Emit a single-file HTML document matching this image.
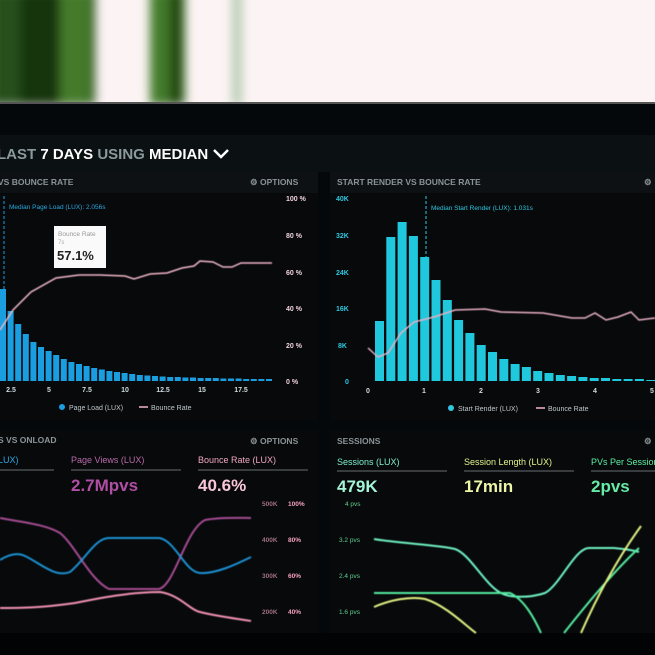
<!DOCTYPE html>
<html><head><meta charset="utf-8"><style>
html,body{margin:0;padding:0;background:#000;}
svg{display:block}
text{font-family:"Liberation Sans",sans-serif;}
</style></head><body>
<svg width="655" height="655" viewBox="0 0 655 655" xmlns="http://www.w3.org/2000/svg">
<defs>
<filter id="b" x="-20%" y="-20%" width="140%" height="140%"><feGaussianBlur stdDeviation="5"/></filter>
<filter id="s"><feGaussianBlur stdDeviation="0.4"/></filter>
</defs>
<rect x="0" y="0" width="655" height="103" fill="#fcf4f4"/>
<g filter="url(#b)">
<rect x="-10" y="-10" width="105" height="115" fill="#28501a"/>
<rect x="20" y="-10" width="40" height="115" fill="#183410"/>
<rect x="60" y="-10" width="30" height="115" fill="#447a2c"/>
<rect x="150" y="-10" width="35" height="115" fill="#427a2c"/>
<rect x="170" y="-10" width="12" height="115" fill="#1a4010"/>
<rect x="232" y="-10" width="10" height="115" fill="#b6ccb2"/>
</g>
<rect x="0" y="102" width="655" height="553" fill="#05080a"/>
<rect x="0" y="102" width="655" height="2" fill="#555"/>
<rect x="0" y="135" width="655" height="37" fill="#0b1013"/>
<rect x="0" y="172" width="318" height="248" fill="#07090b"/>
<rect x="330" y="172" width="325" height="248" fill="#07090b"/>
<rect x="0" y="172" width="318" height="21" fill="#0d1113"/>
<rect x="330" y="172" width="325" height="21" fill="#0d1113"/>
<rect x="0" y="430" width="318" height="203" fill="#07090b"/>
<rect x="330" y="430" width="325" height="203" fill="#07090b"/>
<rect x="0" y="633" width="655" height="22" fill="#020304"/>

<text x="-3" y="159" font-size="15" font-weight="bold" fill="#8a9a9c">LAST <tspan fill="#fff">7 DAYS</tspan> USING <tspan fill="#fff">MEDIAN</tspan></text>
<polyline points="214,150 221,157 228,150" fill="none" stroke="#fff" stroke-width="2.5"/>

<g font-size="8.5" font-weight="bold" fill="#8a9396">
<text x="-2" y="185">VS BOUNCE RATE</text>
<text x="250" y="185">⚙ OPTIONS</text>
<text x="337" y="185">START RENDER VS BOUNCE RATE</text>
<text x="644" y="185">⚙</text>
<text x="-2" y="443">S VS ONLOAD</text>
<text x="250" y="444">⚙ OPTIONS</text>
<text x="337" y="444">SESSIONS</text>
<text x="644" y="444">⚙</text>
</g>

<g fill="#1a9ee0">
<rect x="0" y="289" width="6" height="92"/><rect x="7.6" y="311" width="6" height="70"/><rect x="15.2" y="324" width="6" height="57"/><rect x="22.8" y="334" width="6" height="47"/><rect x="30.4" y="342" width="6" height="39"/><rect x="38" y="347" width="6" height="34"/><rect x="45.6" y="351" width="6" height="30"/><rect x="53.2" y="355" width="6" height="26"/><rect x="60.8" y="359" width="6" height="22"/><rect x="68.4" y="362" width="6" height="19"/><rect x="76" y="364" width="6" height="17"/><rect x="83.6" y="366" width="6" height="15"/><rect x="91.2" y="368" width="6" height="13"/><rect x="98.8" y="369.5" width="6" height="11.5"/><rect x="106.4" y="371" width="6" height="10"/><rect x="114" y="372" width="6" height="9"/><rect x="121.6" y="373" width="6" height="8"/><rect x="129.2" y="374" width="6" height="7"/><rect x="136.8" y="375" width="6" height="6"/><rect x="144.4" y="375.5" width="6" height="5.5"/><rect x="152" y="376" width="6" height="5"/><rect x="159.6" y="376.5" width="6" height="4.5"/><rect x="167.2" y="377" width="6" height="4"/><rect x="174.8" y="377" width="6" height="4"/><rect x="182.4" y="377.5" width="6" height="3.5"/><rect x="190" y="377.5" width="6" height="3.5"/><rect x="197.6" y="378" width="6" height="3"/><rect x="205.2" y="378" width="6" height="3"/><rect x="212.8" y="378" width="6" height="3"/><rect x="220.4" y="378.5" width="6" height="2.5"/><rect x="228" y="378.5" width="6" height="2.5"/><rect x="235.6" y="378.5" width="6" height="2.5"/><rect x="243.2" y="379" width="6" height="2"/><rect x="250.8" y="379" width="6" height="2"/><rect x="258.4" y="379" width="6" height="2"/><rect x="266" y="379" width="6" height="2"/>
</g>
<line x1="4" y1="196" x2="4" y2="289" stroke="#1a9ee0" stroke-width="1" stroke-dasharray="3,2"/>
<text x="9" y="209" font-size="6.5" fill="#2aa8e0">Median Page Load (LUX): 2.056s</text>
<polyline filter="url(#s)" points="0,330 13,310 31,292 56,278 79,275 100,275 125,276 134,279 150,274 167,273 182,268 194,266 200,261 213,262 223,267 232,267 241,263 257,263 272,263" fill="none" stroke="#f0b6c6" stroke-width="1.5"/>
<rect x="54" y="226" width="52" height="42" fill="#fafafa"/>
<text x="58" y="236" font-size="6.5" fill="#999">Bounce Rate</text>
<text x="58" y="244" font-size="6" fill="#aaa">7s</text>
<text x="57" y="260" font-size="13" fill="#222" font-weight="bold">57.1%</text>
<g font-size="7" font-weight="bold" fill="#f0d0dc">
<text x="286" y="201">100 %</text><text x="286" y="238">80 %</text><text x="286" y="275">60 %</text><text x="286" y="311">40 %</text><text x="286" y="348">20 %</text><text x="286" y="384">0 %</text>
</g>
<g font-size="7" font-weight="bold" fill="#d0dce0" text-anchor="middle">
<text x="11" y="392">2.5</text><text x="49" y="392">5</text><text x="87" y="392">7.5</text><text x="125" y="392">10</text><text x="163" y="392">12.5</text><text x="202" y="392">15</text><text x="241" y="392">17.5</text>
</g>
<circle cx="62" cy="407" r="3" fill="#1a9ee0"/>
<text x="69" y="410" font-size="7" fill="#c0c8cc">Page Load (LUX)</text>
<line x1="139" y1="407" x2="148" y2="407" stroke="#f0b6c6" stroke-width="1.5"/>
<text x="151" y="410" font-size="7" fill="#c0c8cc">Bounce Rate</text>

<g font-size="7" font-weight="bold" fill="#2fc8e0">
<text x="336" y="201">40K</text><text x="336" y="238">32K</text><text x="336" y="275">24K</text><text x="336" y="311">16K</text><text x="338" y="348">8K</text><text x="345" y="384">0</text>
</g>
<g fill="#1fc8dc">
<rect x="375" y="321" width="9" height="60"/><rect x="386.3" y="237" width="9" height="144"/><rect x="397.6" y="222" width="9" height="159"/><rect x="408.9" y="236" width="9" height="145"/><rect x="420.2" y="257" width="9" height="124"/><rect x="431.5" y="280" width="9" height="101"/><rect x="442.8" y="300" width="9" height="81"/><rect x="454.1" y="320" width="9" height="61"/><rect x="465.4" y="333" width="9" height="48"/><rect x="476.7" y="345" width="9" height="36"/><rect x="488" y="352" width="9" height="29"/><rect x="499.3" y="359" width="9" height="22"/><rect x="510.6" y="364" width="9" height="17"/><rect x="521.9" y="367" width="9" height="14"/><rect x="533.2" y="371" width="9" height="10"/><rect x="544.5" y="373" width="9" height="8"/><rect x="555.8" y="375" width="9" height="6"/><rect x="567.1" y="376" width="9" height="5"/><rect x="578.4" y="377" width="9" height="4"/><rect x="589.7" y="378" width="9" height="3"/><rect x="601" y="378" width="9" height="3"/><rect x="612.3" y="379" width="9" height="2"/><rect x="623.6" y="379" width="9" height="2"/><rect x="634.9" y="379" width="9" height="2"/><rect x="646.2" y="380" width="9" height="1"/>
</g>
<line x1="426" y1="196" x2="426" y2="257" stroke="#2fc8e0" stroke-width="1" stroke-dasharray="3,2"/>
<text x="431" y="210" font-size="6.5" fill="#2fc8e0">Median Start Render (LUX): 1.031s</text>
<polyline filter="url(#s)" points="368,348 378,357 388,353 401,333 414,322 434,317 455,310 485,309 501,312 543,313 572,318 585,318 595,313 606,320 618,317 631,312 639,320 655,318" fill="none" stroke="#e8b0c4" stroke-width="1.5"/>
<g font-size="7" font-weight="bold" fill="#d0dce0" text-anchor="middle">
<text x="368" y="393">0</text><text x="424" y="393">1</text><text x="481" y="393">2</text><text x="538" y="393">3</text><text x="595" y="393">4</text><text x="652" y="393">5</text>
</g>
<circle cx="451" cy="408" r="3" fill="#2fc8e0"/>
<text x="458" y="411" font-size="7" fill="#c0c8cc">Start Render (LUX)</text>
<line x1="536" y1="408" x2="545" y2="408" stroke="#f0b6c6" stroke-width="1.5"/>
<text x="548" y="411" font-size="7" fill="#c0c8cc">Bounce Rate</text>

<text x="-2" y="463" font-size="9" fill="#2aa8e0">LUX)</text>
<text x="71" y="463" font-size="9" fill="#b86aa8">Page Views (LUX)</text>
<text x="198" y="463" font-size="9" fill="#f2a6c4">Bounce Rate (LUX)</text>
<g stroke="#4a4e50" stroke-width="1.5">
<line x1="0" y1="470" x2="54" y2="470"/><line x1="71" y1="470" x2="181" y2="470"/><line x1="198" y1="470" x2="308" y2="470"/>
<line x1="337" y1="471" x2="447" y2="471"/><line x1="464" y1="471" x2="574" y2="471"/><line x1="591" y1="471" x2="655" y2="471"/>
</g>
<text x="71" y="491" font-size="17" font-weight="bold" fill="#b04ea4">2.7Mpvs</text>
<text x="198" y="491" font-size="17" font-weight="bold" fill="#f8c6d6">40.6%</text>
<g font-size="6.5" font-weight="bold">
<text x="262" y="506" fill="#a0707e">500K</text><text x="288" y="506" fill="#f4a0bc">100%</text>
<text x="262" y="542" fill="#a0707e">400K</text><text x="288" y="542" fill="#f4a0bc">80%</text>
<text x="262" y="578" fill="#a0707e">300K</text><text x="288" y="578" fill="#f4a0bc">60%</text>
<text x="262" y="614" fill="#a0707e">200K</text><text x="288" y="614" fill="#f4a0bc">40%</text>
</g>
<g fill="none" stroke-width="2" filter="url(#s)">
<path d="M0,518 C20,522 45,524 60,533 C75,545 90,580 109,589 L159,589 C175,585 185,530 205,520 C220,517 240,518 251,518" stroke="#a24c90"/>
<path d="M0,560 C8,555 17,552 25,556 C40,563 55,578 70,572 C85,560 95,538 109,538 L159,538 C175,540 185,572 200,573 C215,574 235,565 251,557" stroke="#1b8fd0"/>
<path d="M0,608 C20,608 40,608 75,603 C100,598 130,592 160,592 C180,595 190,610 200,612 C220,617 240,619 251,621" stroke="#f090b0"/>
</g>

<text x="337" y="465" font-size="9" fill="#7ef0d0">Sessions (LUX)</text>
<text x="464" y="465" font-size="9" fill="#e4f48a">Session Length (LUX)</text>
<text x="591" y="465" font-size="9" fill="#5cf0a4">PVs Per Session</text>
<text x="337" y="492" font-size="17" font-weight="bold" fill="#a4f4d8">479K</text>
<text x="464" y="492" font-size="17" font-weight="bold" fill="#eef6a8">17min</text>
<text x="591" y="492" font-size="17" font-weight="bold" fill="#66eaa6">2pvs</text>
<g font-size="6.5" fill="#60d090">
<text x="345" y="506">4 pvs</text><text x="339" y="542">3.2 pvs</text><text x="339" y="578">2.4 pvs</text><text x="339" y="614">1.6 pvs</text>
</g>
<g fill="none" stroke-width="2" filter="url(#s)">
<path d="M374,539 C395,543 440,545 455,549 C470,554 485,585 501,593 C510,598 530,598 545,593 C560,585 575,548 589,548 L614,548 C625,549 632,550 639,552" stroke="#6ef0c0"/>
<path d="M374,593 L510,593 C525,600 535,620 541,633 M564,633 C590,600 615,570 639,548" stroke="#52e89c"/>
<path d="M374,607 C390,600 410,596 425,599 C445,605 465,625 476,633 M581,633 C600,590 620,555 641,526" stroke="#e0f080"/>
</g>
</svg>
</body></html>
